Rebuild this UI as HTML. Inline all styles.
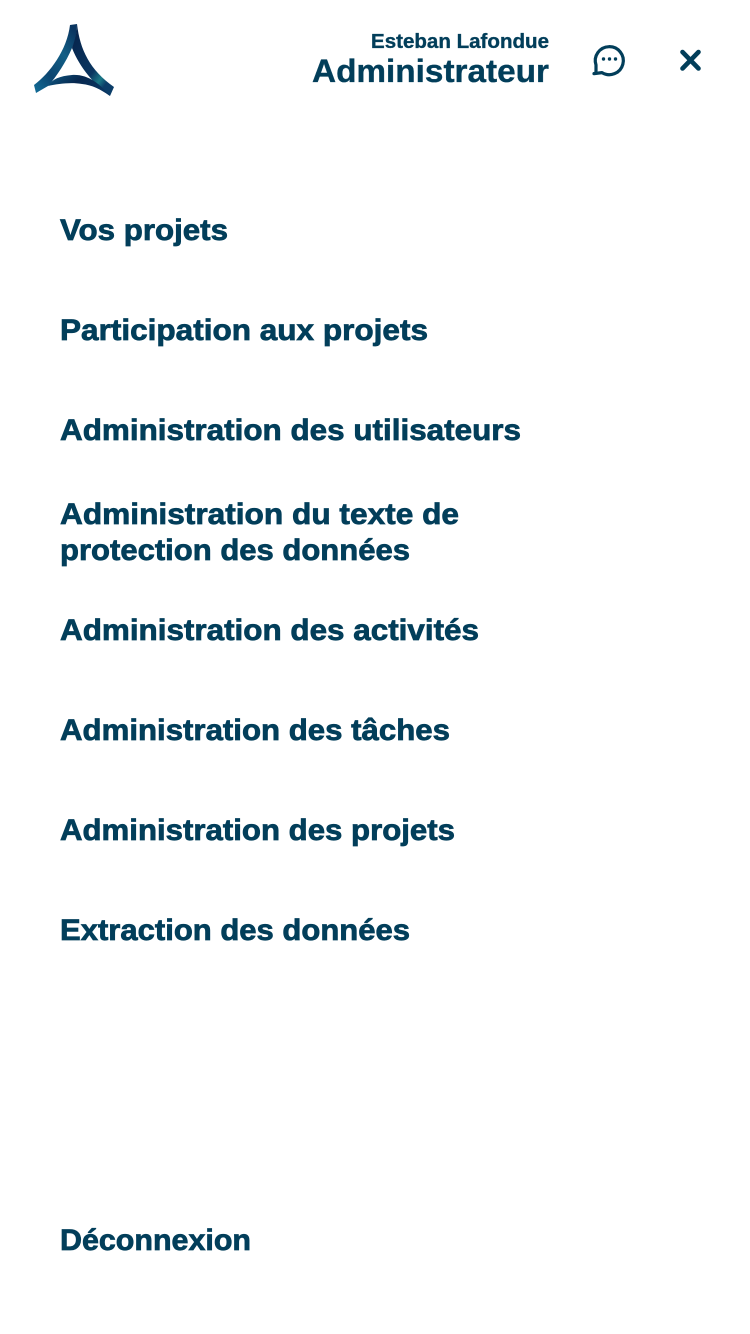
<!DOCTYPE html>
<html lang="fr">
<head>
<meta charset="utf-8">
<title>Menu</title>
<style>
html,body{margin:0;padding:0;background:#fff;width:750px;height:1334px;overflow:hidden}
svg{display:block}
text{font-family:"Liberation Sans",sans-serif;font-weight:700;fill:#023e5a;stroke:#023e5a;stroke-width:.35px}
.m{font-size:30px;cursor:pointer;stroke-width:.75px}
</style>
</head>
<body>
<svg width="750" height="1334" viewBox="0 0 750 1334">
<defs>
<linearGradient id="gl" x1="0.8" y1="0" x2="0.1" y2="1">
<stop offset="0" stop-color="#0a3560"/><stop offset="0.35" stop-color="#125f86"/><stop offset="0.7" stop-color="#0c4570"/><stop offset="1" stop-color="#126a94"/>
</linearGradient>
<linearGradient id="gr" x1="0.1" y1="0" x2="0.9" y2="1">
<stop offset="0" stop-color="#06234a"/><stop offset="0.6" stop-color="#0a3560"/><stop offset="0.75" stop-color="#1b7a88"/><stop offset="0.85" stop-color="#0b3d68"/><stop offset="1" stop-color="#0b3d68"/>
</linearGradient>
<linearGradient id="gb" x1="0" y1="0" x2="1" y2="0.4">
<stop offset="0" stop-color="#0f5a84"/><stop offset="0.5" stop-color="#07284f"/><stop offset="1" stop-color="#0a3560"/>
</linearGradient>
</defs>
<g>
<path d="M70,25 L77,24 C77,34 75,42 72,48 C66,62 57,76 48,86 L36,93 L34,85 C50,73 67,50 70,25Z" fill="url(#gl)"/>
<path d="M77,24 C80,50 90,70 114,87 L110,96 C94,84 80,68 72,48 C75,40 77,32 77,24Z" fill="url(#gr)"/>
<path d="M48,86 C52,79 60,76 72,75 C88,74 100,84 110,96 C100,89 92,85 82,84 C70,82 58,84 48,86Z" fill="url(#gb)"/>
</g>
<text x="371" y="48" font-size="20" textLength="178" lengthAdjust="spacingAndGlyphs">Esteban Lafondue</text>
<text x="312" y="82" font-size="32" textLength="237" lengthAdjust="spacingAndGlyphs">Administrateur</text>
<g>
<path d="M602,72.6 A14,14 0 1 0 596,65 L596,71 Q596,73.6 594,73.6 Z" fill="none" stroke="#023e5a" stroke-width="3.2" stroke-linejoin="round"/>
<circle cx="603.5" cy="59" r="1.7" fill="#023e5a"/>
<circle cx="609.5" cy="59" r="1.7" fill="#023e5a"/>
<circle cx="615.5" cy="59" r="1.7" fill="#023e5a"/>
</g>
<path d="M682.5,52 L698.5,68.5 M698.5,52 L682.5,68.5" stroke="#023e5a" stroke-width="4.6" stroke-linecap="round" fill="none"/>
<text class="m" x="60" y="240" textLength="168" lengthAdjust="spacingAndGlyphs">Vos projets</text>
<text class="m" x="60" y="340" textLength="368" lengthAdjust="spacingAndGlyphs">Participation aux projets</text>
<text class="m" x="60" y="440" textLength="461" lengthAdjust="spacingAndGlyphs">Administration des utilisateurs</text>
<g style="cursor:pointer">
<text class="m" x="60" y="524" textLength="399" lengthAdjust="spacingAndGlyphs">Administration du texte de</text>
<text class="m" x="60" y="560" textLength="350" lengthAdjust="spacingAndGlyphs">protection des données</text>
</g>
<text class="m" x="60" y="640" textLength="419" lengthAdjust="spacingAndGlyphs">Administration des activités</text>
<text class="m" x="60" y="740" textLength="390" lengthAdjust="spacingAndGlyphs">Administration des tâches</text>
<text class="m" x="60" y="840" textLength="395" lengthAdjust="spacingAndGlyphs">Administration des projets</text>
<text class="m" x="60" y="940" textLength="350" lengthAdjust="spacingAndGlyphs">Extraction des données</text>
<text class="m" x="60" y="1250" textLength="191" lengthAdjust="spacingAndGlyphs">Déconnexion</text>
</svg>
</body>
</html>
